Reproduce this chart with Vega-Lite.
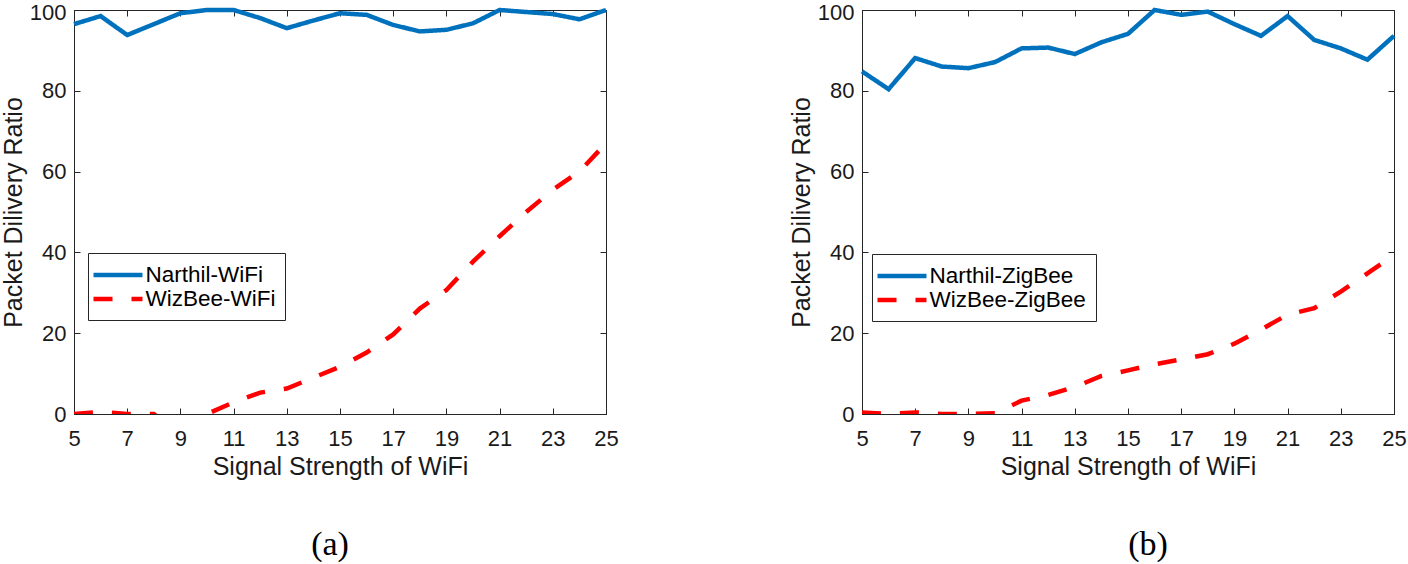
{
  "$schema": "https://vega.github.io/schema/vega-lite/v6.json",
  "padding": {"left": 0, "top": 0, "right": 12, "bottom": 0},
  "background": "white",
  "datasets": {
    "a": [
      {"x": 5, "series": "Narthil-WiFi", "v": 96.5}, {"x": 6, "series": "Narthil-WiFi", "v": 98.5}, {"x": 7, "series": "Narthil-WiFi", "v": 93.8}, {"x": 8, "series": "Narthil-WiFi", "v": 96.5}, {"x": 9, "series": "Narthil-WiFi", "v": 99.2}, {"x": 10, "series": "Narthil-WiFi", "v": 100}, {"x": 11, "series": "Narthil-WiFi", "v": 100}, {"x": 12, "series": "Narthil-WiFi", "v": 98}, {"x": 13, "series": "Narthil-WiFi", "v": 95.5}, {"x": 14, "series": "Narthil-WiFi", "v": 97.4}, {"x": 15, "series": "Narthil-WiFi", "v": 99.2}, {"x": 16, "series": "Narthil-WiFi", "v": 98.8}, {"x": 17, "series": "Narthil-WiFi", "v": 96.3}, {"x": 18, "series": "Narthil-WiFi", "v": 94.7}, {"x": 19, "series": "Narthil-WiFi", "v": 95.1}, {"x": 20, "series": "Narthil-WiFi", "v": 96.7}, {"x": 21, "series": "Narthil-WiFi", "v": 100}, {"x": 22, "series": "Narthil-WiFi", "v": 99.5}, {"x": 23, "series": "Narthil-WiFi", "v": 99}, {"x": 24, "series": "Narthil-WiFi", "v": 97.7}, {"x": 25, "series": "Narthil-WiFi", "v": 100},
      {"x": 5, "series": "WizBee-WiFi", "v": 0}, {"x": 6, "series": "WizBee-WiFi", "v": 0.5}, {"x": 7, "series": "WizBee-WiFi", "v": 0}, {"x": 8, "series": "WizBee-WiFi", "v": 0}, {"x": 9, "series": "WizBee-WiFi", "v": -5}, {"x": 10, "series": "WizBee-WiFi", "v": 0}, {"x": 11, "series": "WizBee-WiFi", "v": 2.9}, {"x": 12, "series": "WizBee-WiFi", "v": 5.3}, {"x": 13, "series": "WizBee-WiFi", "v": 6.3}, {"x": 14, "series": "WizBee-WiFi", "v": 9.0}, {"x": 15, "series": "WizBee-WiFi", "v": 11.7}, {"x": 16, "series": "WizBee-WiFi", "v": 15.2}, {"x": 17, "series": "WizBee-WiFi", "v": 19.7}, {"x": 18, "series": "WizBee-WiFi", "v": 26.1}, {"x": 19, "series": "WizBee-WiFi", "v": 30.7}, {"x": 20, "series": "WizBee-WiFi", "v": 37.7}, {"x": 21, "series": "WizBee-WiFi", "v": 44}, {"x": 22, "series": "WizBee-WiFi", "v": 50}, {"x": 23, "series": "WizBee-WiFi", "v": 55.5}, {"x": 24, "series": "WizBee-WiFi", "v": 60}, {"x": 25, "series": "WizBee-WiFi", "v": 67}
    ],
    "b": [
      {"x": 5, "series": "Narthil-ZigBee", "v": 84.8}, {"x": 6, "series": "Narthil-ZigBee", "v": 80.4}, {"x": 7, "series": "Narthil-ZigBee", "v": 88.1}, {"x": 8, "series": "Narthil-ZigBee", "v": 86.0}, {"x": 9, "series": "Narthil-ZigBee", "v": 85.6}, {"x": 10, "series": "Narthil-ZigBee", "v": 87.1}, {"x": 11, "series": "Narthil-ZigBee", "v": 90.5}, {"x": 12, "series": "Narthil-ZigBee", "v": 90.7}, {"x": 13, "series": "Narthil-ZigBee", "v": 89.1}, {"x": 14, "series": "Narthil-ZigBee", "v": 92.0}, {"x": 15, "series": "Narthil-ZigBee", "v": 94.1}, {"x": 16, "series": "Narthil-ZigBee", "v": 100}, {"x": 17, "series": "Narthil-ZigBee", "v": 98.8}, {"x": 18, "series": "Narthil-ZigBee", "v": 99.6}, {"x": 19, "series": "Narthil-ZigBee", "v": 96.5}, {"x": 20, "series": "Narthil-ZigBee", "v": 93.6}, {"x": 21, "series": "Narthil-ZigBee", "v": 98.5}, {"x": 22, "series": "Narthil-ZigBee", "v": 92.6}, {"x": 23, "series": "Narthil-ZigBee", "v": 90.5}, {"x": 24, "series": "Narthil-ZigBee", "v": 87.7}, {"x": 25, "series": "Narthil-ZigBee", "v": 93.6},
      {"x": 5, "series": "WizBee-ZigBee", "v": 0.4}, {"x": 6, "series": "WizBee-ZigBee", "v": 0}, {"x": 7, "series": "WizBee-ZigBee", "v": 0.4}, {"x": 8, "series": "WizBee-ZigBee", "v": 0}, {"x": 9, "series": "WizBee-ZigBee", "v": 0}, {"x": 10, "series": "WizBee-ZigBee", "v": 0.2}, {"x": 11, "series": "WizBee-ZigBee", "v": 3.3}, {"x": 12, "series": "WizBee-ZigBee", "v": 4.7}, {"x": 13, "series": "WizBee-ZigBee", "v": 6.7}, {"x": 14, "series": "WizBee-ZigBee", "v": 9.4}, {"x": 15, "series": "WizBee-ZigBee", "v": 10.8}, {"x": 16, "series": "WizBee-ZigBee", "v": 12.3}, {"x": 17, "series": "WizBee-ZigBee", "v": 13.5}, {"x": 18, "series": "WizBee-ZigBee", "v": 14.8}, {"x": 19, "series": "WizBee-ZigBee", "v": 17.4}, {"x": 20, "series": "WizBee-ZigBee", "v": 20.9}, {"x": 21, "series": "WizBee-ZigBee", "v": 24.6}, {"x": 22, "series": "WizBee-ZigBee", "v": 26.2}, {"x": 23, "series": "WizBee-ZigBee", "v": 30.3}, {"x": 24, "series": "WizBee-ZigBee", "v": 34.8}, {"x": 25, "series": "WizBee-ZigBee", "v": 39.3}
    ]
  },
  "config": {
    "font": "Liberation Sans",
    "view": {"stroke": "#262626", "strokeWidth": 1},
    "axis": {
      "grid": false, "domainColor": "#262626", "tickColor": "#262626", "tickSize": -6,
      "labelColor": "#1a1a1a", "titleColor": "#1a1a1a", "labelFontSize": 22, "titleFontSize": 25,
      "titleFontWeight": "normal", "labelFont": "Liberation Sans", "titleFont": "Liberation Sans",
      "labelFlush": false
    },
    "axisBottom": {"labelPadding": 20, "titlePadding": 5},
    "axisLeft": {"labelPadding": 14, "titlePadding": 3, "titleFontSize": 25},
    "axisTop": {"labelPadding": 0, "titlePadding": 0, "domain": false},
    "axisRight": {"labelPadding": 0, "titlePadding": 0, "domain": false},
    "legend": {
      "orient": "none", "strokeColor": "#262626", "fillColor": "white", "padding": 9.5,
      "labelFontSize": 22.5, "labelFont": "Liberation Sans", "labelColor": "#000",
      "symbolType": "M-2.5,0H2.5", "symbolSize": 384, "symbolStrokeWidth": 4.5,
      "symbolOffset": 8, "labelOffset": 15, "rowPadding": 0
    },
    "title": {"font": "Liberation Serif", "fontSize": 34, "fontWeight": "normal", "color": "#000"}
  },
  "spacing": 169,
  "resolve": {"scale": {"color": "independent", "strokeDash": "independent"}, "legend": {"color": "independent", "strokeDash": "independent"}},
  "hconcat": [
    {
      "width": 532, "height": 404,
      "title": {"text": "(a)", "orient": "bottom", "offset": 49, "dx": -10, "frame": "group"},
      "data": {"name": "a"},
      "resolve": {"axis": {"x": "independent", "y": "independent"}},
      "layer": [
        {
          "transform": [{"filter": "datum.series === 'Narthil-WiFi'"}],
          "mark": {"type": "line", "strokeWidth": 4.5, "clip": false},
          "encoding": {
            "x": {"field": "x", "type": "quantitative", "scale": {"domain": [5, 25], "nice": false}, "axis": {"values": [5, 7, 9, 11, 13, 15, 17, 19, 21, 23, 25], "title": "Signal Strength of WiFi"}},
            "y": {"field": "v", "type": "quantitative", "scale": {"domain": [0, 100], "nice": false}, "axis": {"values": [0, 20, 40, 60, 80, 100], "title": "Packet Dilivery Ratio", "labelOffset": {"condition": {"test": "datum.value === 100", "value": 2.5}, "value": 0}}},
            "color": {"field": "series", "type": "nominal", "scale": {"domain": ["Narthil-WiFi", "WizBee-WiFi"], "range": ["#0072BD", "#FF0000"]}, "legend": {"title": null, "legendX": 14, "legendY": 243}},
            "strokeDash": {"field": "series", "type": "nominal", "scale": {"domain": ["Narthil-WiFi", "WizBee-WiFi"], "range": [[1, 0], [19, 19]]}, "legend": {"title": null, "legendX": 14, "legendY": 243}}
          }
        },
        {
          "transform": [{"filter": "datum.series === 'WizBee-WiFi'"}],
          "mark": {"type": "line", "strokeWidth": 4.5, "clip": true},
          "encoding": {
            "x": {"field": "x", "type": "quantitative", "axis": {"orient": "top", "labels": false, "title": null, "values": [5, 7, 9, 11, 13, 15, 17, 19, 21, 23, 25]}},
            "y": {"field": "v", "type": "quantitative", "axis": {"orient": "right", "labels": false, "title": null, "values": [0, 20, 40, 60, 80, 100]}},
            "color": {"field": "series", "type": "nominal", "legend": {"title": null, "legendX": 14, "legendY": 243}},
            "strokeDash": {"field": "series", "type": "nominal", "legend": {"title": null, "legendX": 14, "legendY": 243}}
          }
        }
      ]
    },
    {
      "width": 532, "height": 404,
      "title": {"text": "(b)", "orient": "bottom", "offset": 49, "dx": 20, "frame": "group"},
      "data": {"name": "b"},
      "resolve": {"axis": {"x": "independent", "y": "independent"}},
      "layer": [
        {
          "transform": [{"filter": "datum.series === 'Narthil-ZigBee'"}],
          "mark": {"type": "line", "strokeWidth": 4.5, "clip": false},
          "encoding": {
            "x": {"field": "x", "type": "quantitative", "scale": {"domain": [5, 25], "nice": false}, "axis": {"values": [5, 7, 9, 11, 13, 15, 17, 19, 21, 23, 25], "title": "Signal Strength of WiFi"}},
            "y": {"field": "v", "type": "quantitative", "scale": {"domain": [0, 100], "nice": false}, "axis": {"values": [0, 20, 40, 60, 80, 100], "title": "Packet Dilivery Ratio", "labelOffset": {"condition": {"test": "datum.value === 100", "value": 2.5}, "value": 0}}},
            "color": {"field": "series", "type": "nominal", "scale": {"domain": ["Narthil-ZigBee", "WizBee-ZigBee"], "range": ["#0072BD", "#FF0000"]}, "legend": {"title": null, "legendX": 10, "legendY": 244}},
            "strokeDash": {"field": "series", "type": "nominal", "scale": {"domain": ["Narthil-ZigBee", "WizBee-ZigBee"], "range": [[1, 0], [19, 19]]}, "legend": {"title": null, "legendX": 10, "legendY": 244}}
          }
        },
        {
          "transform": [{"filter": "datum.series === 'WizBee-ZigBee'"}],
          "mark": {"type": "line", "strokeWidth": 4.5, "clip": true},
          "encoding": {
            "x": {"field": "x", "type": "quantitative", "axis": {"orient": "top", "labels": false, "title": null, "values": [5, 7, 9, 11, 13, 15, 17, 19, 21, 23, 25]}},
            "y": {"field": "v", "type": "quantitative", "axis": {"orient": "right", "labels": false, "title": null, "values": [0, 20, 40, 60, 80, 100]}},
            "color": {"field": "series", "type": "nominal", "legend": {"title": null, "legendX": 10, "legendY": 244}},
            "strokeDash": {"field": "series", "type": "nominal", "legend": {"title": null, "legendX": 10, "legendY": 244}}
          }
        }
      ]
    }
  ]
}
